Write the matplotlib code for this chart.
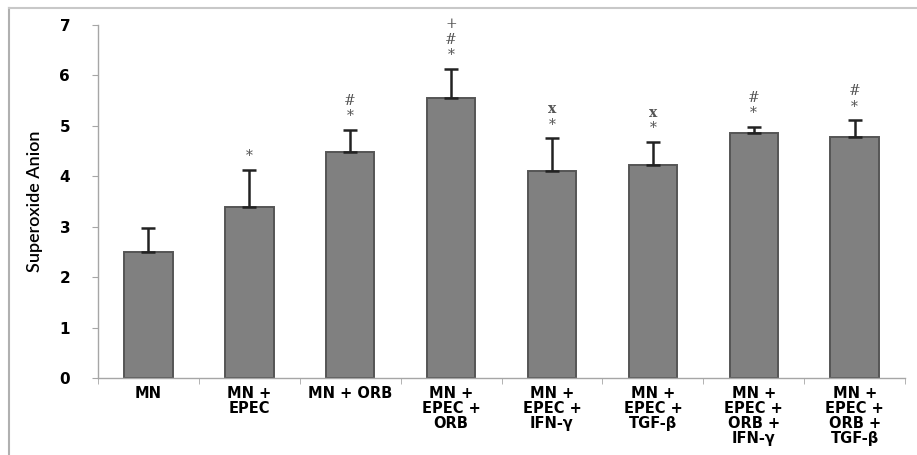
import matplotlib
matplotlib.use("Agg")
import matplotlib.pyplot as plt
import matplotlib.lines as mlines
import numpy as np

# ── Data ───────────────────────────────────────────────
groups = ["MN", "MN +\nEPEC", "MN + ORB", "MN +\nEPEC +\nORB",
          "MN +\nEPEC +\nIFN-γ", "MN +\nEPEC +\nTGF-β",
          "MN +\nEPEC +\nORB +\nIFN-γ", "MN +\nEPEC +\nORB +\nTGF-β"]
means = [2.50, 3.39, 4.48, 5.56, 4.10, 4.23, 4.85, 4.78]
errors = [0.47, 0.74, 0.44, 0.57, 0.65, 0.45, 0.13, 0.33]
marks = ["", "*", "*\n#", "*\n#\n+", "*\nx", "*\nx", "*\n#", "*\n#"]
yticks = [0, 1, 2, 3, 4, 5, 6, 7]

BAR = "#808080"
EDGE = "#555555"
SPINE = "#a6a6a6"

fig = plt.figure(figsize=(9.17, 4.55), dpi=100)
ax = fig.add_axes([0.1069, 0.1692, 0.8801, 0.7758])

x = np.arange(len(groups))
ax.bar(x, means, width=0.48, color=BAR, edgecolor=EDGE, linewidth=1.4,
       zorder=2)
ax.errorbar(x, means, yerr=[np.zeros(len(errors)), errors], fmt="none",
            ecolor="#222222", elinewidth=1.8, capsize=5, capthick=1.8,
            zorder=3)

# significance marks stacked above error bars
for xi, m, e, s in zip(x, means, errors, marks):
    if not s:
        continue
    for k, sym in enumerate(s.split("\n")):
        ax.text(xi, m + e + 0.13 + k * 0.31, sym, ha="center", va="bottom",
                fontsize=10, color="#555555", family="DejaVu Serif",
                fontweight="bold" if sym == "x" else "normal",
                clip_on=False)

ax.set_xlim(-0.5, len(groups) - 0.5)
ax.set_ylim(0, 7)
ax.set_yticks(yticks)
ax.set_yticklabels([str(t) for t in yticks], fontsize=11, fontweight="bold")
ax.set_xticks(x)
ax.set_xticklabels(groups, fontsize=10.5, fontweight="bold", linespacing=1.0)
ax.tick_params(axis="x", length=0, pad=6)
ax.tick_params(axis="y", length=4, color=SPINE, pad=16)
# category boundary ticks
ax.set_xticks(np.arange(len(groups) + 1) - 0.5, minor=True)
ax.tick_params(axis="x", which="minor", length=4, color=SPINE)

ax.set_ylabel("Superoxide Anion", fontsize=13, family="Lato",
              fontweight="semibold", labelpad=12)

for side in ["top", "right"]:
    ax.spines[side].set_visible(False)
for side in ["left", "bottom"]:
    ax.spines[side].set_color(SPINE)
    ax.spines[side].set_linewidth(1.0)

# outer frame of the original picture
fig.add_artist(mlines.Line2D([9 / 917, 9 / 917], [0, 1 - 8 / 455],
                             color="#b0b0b0", linewidth=1.5))
fig.add_artist(mlines.Line2D([9 / 917, 1], [1 - 8 / 455, 1 - 8 / 455],
                             color="#c8c8c8", linewidth=1.5))

fig.savefig("out.png", dpi=100)
